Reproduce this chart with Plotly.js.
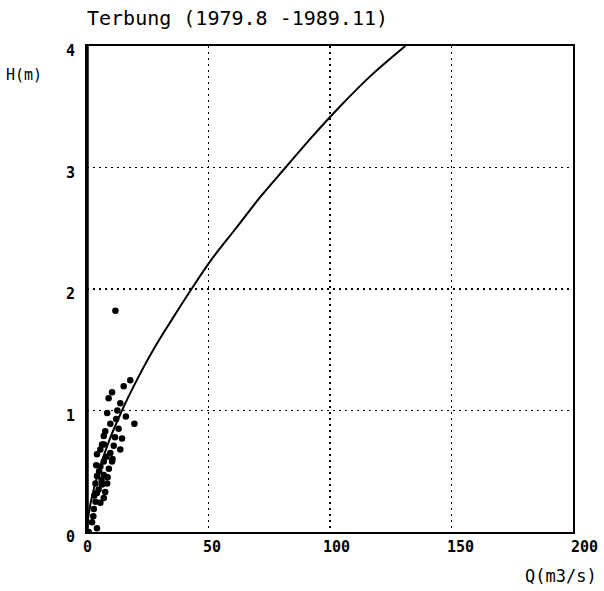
<!DOCTYPE html>
<html>
<head>
<meta charset="utf-8">
<script src="https://cdn.plot.ly/plotly-3.0.1.min.js"></script>
<style>html,body{margin:0;padding:0;background:#fff;}</style>
</head>
<body>
<div id="chart" style="width:604px;height:591px;"></div>
<script>
// Rating curve (Q in m3/s, H in m)
const curveQ = [0, 0.4, 1.6, 4.8, 9.1, 14.4, 20.5, 27.3, 35, 43, 51.5, 61.3, 71, 81.7, 92.5, 104, 116.5, 131];
const curveH = [0, 0.1, 0.25, 0.5, 0.75, 1.0, 1.25, 1.5, 1.75, 2.0, 2.25, 2.5, 2.75, 3.0, 3.25, 3.5, 3.75, 4.0];

// Observed gaugings
const obsQ = [11.7, 17.8, 15.1, 10.3, 8.9, 13.7, 8.3, 9.6, 19.5, 13.0, 6.9, 14.4, 6.2, 11.0, 13.7, 4.1, 9.6, 6.9, 10.3, 5.5, 4.1, 6.9, 3.5, 6.2, 8.3, 4.1, 6.9, 3.5, 5.5, 2.8, 2.1, 4.1, 0.7,
              7.5, 12.0, 8.0, 5.0, 9.0, 4.8, 7.5, 3.0, 11.5, 16.0, 12.5, 5.5, 7.0, 10.5, 8.5, 3.8, 6.0, 2.6];
const obsH = [1.82, 1.25, 1.20, 1.15, 1.10, 1.06, 0.98, 0.89, 0.89, 0.85, 0.79, 0.77, 0.72, 0.71, 0.68, 0.64, 0.65, 0.58, 0.58, 0.54, 0.46, 0.47, 0.40, 0.39, 0.40, 0.32, 0.28, 0.25, 0.24, 0.19, 0.08, 0.03, 0.0,
              0.83, 0.93, 0.62, 0.50, 0.52, 0.35, 0.33, 0.30, 0.78, 0.95, 1.00, 0.68, 0.72, 0.60, 0.45, 0.55, 0.43, 0.13];

const xTicks = [0, 50, 100, 150, 200];
const xTickText = ['0', '50', '100', '150', '200'];
const yTicks = [0, 1, 2, 3, 4];
const yTickText = ['0', '1', '2', '3', '4'];

const titleText = 'Terbung (1979.8 -1989.11)';
const yLabel = 'H(m)';
const xLabel = 'Q(m3/s)';

const mono = 'DejaVu Sans Mono, monospace';
const xMax = 200;

const traces = [
  {
    x: obsQ, y: obsH, type: 'scatter', mode: 'markers',
    marker: {color: '#000', size: 6.5, symbol: 'circle'},
    hoverinfo: 'none', showlegend: false
  },
  {
    x: curveQ, y: curveH, type: 'scatter', mode: 'lines',
    line: {color: '#000', width: 2, shape: 'spline', smoothing: 1},
    hoverinfo: 'none', showlegend: false
  }
];

// x tick labels of the scanned original sit progressively right of their gridlines
const xLabelStretch = 1.0225;
const xTickAnnotations = xTicks.map((v, i) => ({
  text: xTickText[i], xref: 'paper', yref: 'paper',
  x: (0.4 + v * xLabelStretch) / xMax, y: (532.5 - 548) / 486.5,
  xanchor: 'center', yanchor: 'middle', showarrow: false,
  font: {family: mono, size: 15, color: '#000', weight: 'bold'}
}));

const layout = {
  width: 604, height: 591,
  margin: {l: 87, r: 31, t: 46, b: 58.5, pad: 0},
  paper_bgcolor: '#fff', plot_bgcolor: '#fff',
  showlegend: false,
  title: {
    text: titleText,
    font: {family: mono, size: 20, color: '#000'},
    x: 87 / 604, xanchor: 'left', xref: 'container',
    y: 1 - 18 / 591, yanchor: 'middle', yref: 'container'
  },
  xaxis: {
    range: [0, xMax], tickvals: xTicks, showticklabels: false,
    showgrid: true, gridcolor: '#000', gridwidth: 1.5, griddash: '2px,4px',
    zeroline: false, showline: true, linecolor: '#000', linewidth: 2, mirror: true,
    ticks: '', fixedrange: true
  },
  yaxis: {
    range: [0, 4], tickvals: yTicks, ticktext: yTickText,
    showgrid: true, gridcolor: '#000', gridwidth: 1.5, griddash: '2px,4px',
    zeroline: false, showline: true, linecolor: '#000', linewidth: 2, mirror: true,
    ticks: '', ticklabelstandoff: 7, ticklabelshift: 5,
    tickfont: {family: mono, size: 15, color: '#000', weight: 'bold'},
    fixedrange: true
  },
  shapes: [
    {type: 'line', xref: 'paper', yref: 'paper', x0: 0, x1: 0, y0: 0, y1: 1,
     line: {color: '#000', width: 3.5}}
  ],
  annotations: xTickAnnotations.concat([
    {text: yLabel, xref: 'paper', yref: 'paper', x: (24 - 87) / 486, y: (532.5 - 75) / 486.5,
     xanchor: 'center', yanchor: 'middle', showarrow: false,
     font: {family: mono, size: 15, color: '#000'}},
    {text: xLabel, xref: 'paper', yref: 'paper', x: (561 - 87) / 486, y: (532.5 - 577) / 486.5,
     xanchor: 'center', yanchor: 'middle', showarrow: false,
     font: {family: mono, size: 17, color: '#000'}}
  ])
};

Plotly.newPlot('chart', traces, layout, {staticPlot: true, displayModeBar: false});
</script>
</body>
</html>
